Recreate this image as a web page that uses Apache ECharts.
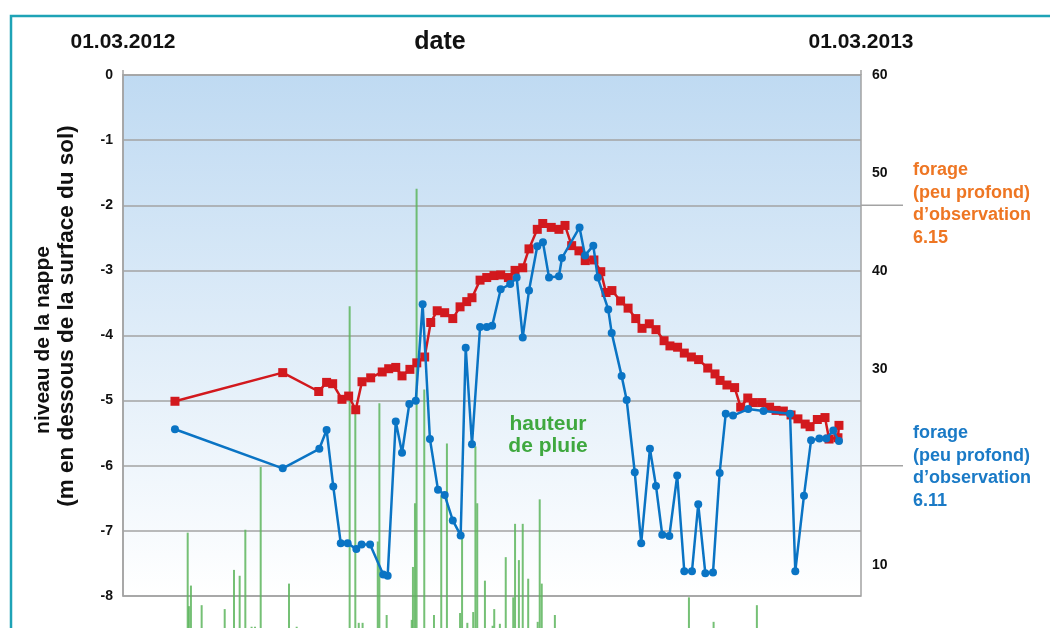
<!DOCTYPE html>
<html>
<head>
<meta charset="utf-8">
<script src="https://cdn.jsdelivr.net/npm/echarts@6/dist/echarts.min.js"></script>
<style>
  html, body { margin: 0; padding: 0; background: #fff; }
  #mychart { width: 1050px; height: 628px; }
</style>
</head>
<body>
<div id="mychart"></div>
<script>
// jours depuis le 01.03.2012
var redDays = [25.7, 79.0, 96.8, 100.7, 103.7, 108.3, 111.6, 115.1, 118.2, 122.5, 128.2, 131.4, 134.9, 138.0, 141.9, 145.3, 149.2, 152.2, 155.4, 159.1,
  163.1, 166.7, 170.0, 172.6, 176.6, 179.9, 183.5, 186.8, 190.6, 193.9, 197.7, 200.8, 204.9, 207.6, 211.8, 215.6, 218.6, 221.9, 225.5, 228.6,
  232.9, 236.3, 238.9, 241.8, 246.1, 249.8, 253.6, 256.7, 260.3, 263.6, 267.6, 270.5, 274.3, 277.6, 281.1, 284.7, 289.2, 292.8, 295.3, 298.7,
  302.5, 305.5, 309.0, 311.7, 315.9, 319.8, 323.0, 326.6, 330.4, 333.8, 337.4, 339.8, 343.4, 347.2, 349.2, 353.6, 354.1];
var redLevels = [-5.01, -4.57, -4.86, -4.72, -4.74, -4.98, -4.93, -5.14, -4.71, -4.65, -4.56, -4.51, -4.49, -4.62, -4.52, -4.42, -4.33, -3.80, -3.62, -3.65,
  -3.74, -3.56, -3.48, -3.42, -3.15, -3.11, -3.08, -3.07, -3.11, -3.00, -2.96, -2.67, -2.37, -2.28, -2.34, -2.37, -2.31, -2.62, -2.70, -2.85,
  -2.84, -3.02, -3.34, -3.31, -3.47, -3.58, -3.74, -3.89, -3.82, -3.91, -4.08, -4.16, -4.18, -4.27, -4.33, -4.37, -4.50, -4.59, -4.69, -4.76,
  -4.80, -5.10, -4.96, -5.03, -5.03, -5.10, -5.15, -5.16, -5.22, -5.28, -5.36, -5.40, -5.29, -5.26, -5.59, -5.57, -5.38];

var blueDays = [25.7, 79.0, 97.1, 100.7, 104.0, 107.7, 111.1, 115.4, 118.0, 122.2, 128.7, 130.9, 134.9, 138.0, 141.6, 144.8, 148.2, 151.8, 155.8, 159.1,
  163.1, 167.0, 169.5, 172.6, 176.6, 179.9, 182.6, 186.8, 191.5, 194.7, 197.7, 200.8, 204.9, 207.7, 210.7, 215.6, 217.1, 225.8, 228.5, 232.6,
  234.8, 240.0, 241.7, 246.6, 249.1, 253.1, 256.3, 260.6, 263.6, 266.7, 270.2, 274.1, 277.6, 281.4, 284.5, 288.0, 291.8, 295.1, 298.1, 301.7,
  309.2, 316.8, 329.9, 332.5, 336.8, 340.3, 344.4, 347.8, 351.3, 354.1];
var blueLevels = [-5.44, -6.04, -5.74, -5.45, -6.32, -7.19, -7.19, -7.28, -7.21, -7.21, -7.67, -7.69, -5.32, -5.80, -5.05, -5.00, -3.52, -5.59, -6.37, -6.45,
  -6.84, -7.07, -4.19, -5.67, -3.87, -3.87, -3.85, -3.29, -3.21, -3.11, -4.03, -3.31, -2.63, -2.57, -3.11, -3.09, -2.81, -2.34, -2.77, -2.62,
  -3.11, -3.60, -3.96, -4.62, -4.99, -6.10, -7.19, -5.74, -6.31, -7.06, -7.08, -6.15, -7.62, -7.62, -6.59, -7.65, -7.64, -6.11, -5.20, -5.23,
  -5.13, -5.16, -5.20, -7.62, -6.46, -5.61, -5.58, -5.58, -5.46, -5.62];

// hauteur de pluie (mm)
var rainDays = [32.0, 32.6, 33.6, 38.9, 50.3, 54.9, 57.7, 60.5, 63.6, 65.3, 68.1, 82.1, 85.9, 112.1, 114.9, 116.6, 118.5, 126.0, 126.8, 130.4,
  142.8, 143.4, 144.4, 145.2, 149.0, 153.8, 157.4, 160.2, 166.7, 167.7, 170.3, 173.2, 174.3, 175.2, 179.0, 182.8, 183.6, 186.4, 189.3, 193.0,
  193.9, 195.8, 197.7, 200.4, 205.1, 206.1, 207.1, 213.6, 279.9, 292.1, 313.5];
var rainMm = [13.3, 5.8, 7.9, 5.9, 5.5, 9.5, 8.9, 13.6, 3.7, 3.7, 20.0, 8.1, 3.7, 36.4, 25.8, 4.1, 4.1, 12.4, 26.5, 4.9,
  4.4, 9.8, 16.3, 48.4, 27.9, 4.9, 17.1, 22.4, 5.1, 13.1, 4.1, 5.2, 22.1, 16.3, 8.4, 3.8, 5.5, 4.0, 10.8, 6.7,
  14.2, 10.5, 14.2, 8.6, 4.2, 16.7, 8.1, 4.9, 6.7, 4.2, 5.9];

var dateLabels = ['01.03.2012', '01.03.2013'];

function pairs(xs, ys) {
  return xs.map(function (x, i) { return [x, ys[i]]; });
}

var mychart = echarts.init(document.getElementById('mychart'));
var font = 'Liberation Sans, Arial, sans-serif';
var grey = '#a3a3a3';

var option = {
  animation: false,
  textStyle: { fontFamily: font },
  grid: [
    {
      left: 123, right: 189, top: 75, height: 521, outerBoundsMode: 'none',
      show: true, borderColor: grey, borderWidth: 1.5,
      backgroundColor: {
        type: 'linear', x: 0, y: 0, x2: 0, y2: 1,
        colorStops: [{ offset: 0, color: '#bfdaf2' }, { offset: 1, color: '#ffffff' }]
      }
    },
    // la pluie a son zéro sous le bord de l'image
    { left: 123, right: 189, top: 75, height: 588, outerBoundsMode: 'none' }
  ],
  xAxis: [
    {
      gridIndex: 0, type: 'value', min: 0, max: 365, interval: 365, position: 'top',
      axisLine: { show: false },
      axisTick: { show: true, length: 5, lineStyle: { color: grey, width: 1.5 } },
      splitLine: { show: false },
      axisLabel: {
        margin: 22, fontSize: 21, fontWeight: 'bold', color: '#111',
        formatter: function (v) { return v === 0 ? dateLabels[0] : dateLabels[1]; }
      }
    },
    { gridIndex: 1, type: 'value', min: 0, max: 365, show: false }
  ],
  yAxis: [
    {
      gridIndex: 0, type: 'value', min: -8, max: 0, interval: 1,
      axisLine: { show: true, lineStyle: { color: grey, width: 1.5 } },
      axisTick: { show: false },
      splitLine: { lineStyle: { color: grey, width: 1.5 } },
      axisLabel: { margin: 10, fontSize: 14, fontWeight: 'bold', color: '#111' }
    },
    {
      gridIndex: 1, type: 'value', min: 0, max: 60, interval: 10, position: 'right',
      axisLine: { show: false }, axisTick: { show: false }, splitLine: { show: false },
      axisLabel: {
        margin: 11, fontSize: 14, fontWeight: 'bold', color: '#111',
        formatter: function (v) { return (v === 0 || v === 20) ? '' : v; }
      }
    }
  ],
  series: [
    {
      name: 'hauteur de pluie', type: 'bar', xAxisIndex: 1, yAxisIndex: 1,
      barWidth: 2, z: 1,
      itemStyle: { color: '#5db55d', opacity: 0.85 },
      data: pairs(rainDays, rainMm)
    },
    {
      name: '6.15', type: 'line', xAxisIndex: 0, yAxisIndex: 0, z: 3,
      symbol: 'rect', symbolSize: 9,
      lineStyle: { color: '#d2191e', width: 2.5 },
      itemStyle: { color: '#d2191e' },
      data: pairs(redDays, redLevels)
    },
    {
      name: '6.11', type: 'line', xAxisIndex: 0, yAxisIndex: 0, z: 4,
      symbol: 'circle', symbolSize: 8,
      lineStyle: { color: '#0a74c4', width: 2.5 },
      itemStyle: { color: '#0a74c4' },
      data: pairs(blueDays, blueLevels)
    }
  ]
};
mychart.setOption(option);

// traits de repère vers les légendes (à -2 et -6)
var xr = mychart.convertToPixel({ xAxisIndex: 0 }, 365);
var y2 = mychart.convertToPixel({ yAxisIndex: 0 }, -2);
var y6 = mychart.convertToPixel({ yAxisIndex: 0 }, -6);

mychart.setOption({
  graphic: [
    {
      type: 'rect', silent: true,
      shape: { x: 11, y: 16, width: 1200, height: 800 },
      style: { fill: null, stroke: '#1ea3b6', lineWidth: 2.5 }
    },
    { type: 'line', shape: { x1: xr, y1: y2, x2: xr + 42, y2: y2 }, style: { stroke: grey, lineWidth: 1.5 } },
    { type: 'line', shape: { x1: xr, y1: y6, x2: xr + 42, y2: y6 }, style: { stroke: grey, lineWidth: 1.5 } },
    {
      type: 'text', x: 440, y: 42,
      style: { text: 'date', font: 'bold 25px ' + font, fill: '#111', textAlign: 'center', textVerticalAlign: 'middle' }
    },
    {
      type: 'text', x: 43, y: 340, rotation: Math.PI / 2,
      style: { text: 'niveau de la nappe', font: 'bold 21px ' + font, fill: '#111', textAlign: 'center', textVerticalAlign: 'middle' }
    },
    {
      type: 'text', x: 67, y: 316, rotation: Math.PI / 2,
      style: { text: '(m en dessous de la surface du sol)', font: 'bold 22.5px ' + font, fill: '#111', textAlign: 'center', textVerticalAlign: 'middle' }
    },
    {
      type: 'text', x: 913, y: 159,
      style: { text: 'forage\n(peu profond)\nd\u2019observation\n6.15', font: 'bold 18px ' + font, lineHeight: 22.5, fill: '#ee7623' }
    },
    {
      type: 'text', x: 913, y: 422,
      style: { text: 'forage\n(peu profond)\nd\u2019observation\n6.11', font: 'bold 18px ' + font, lineHeight: 22.5, fill: '#1a7ac6' }
    },
    {
      type: 'text', x: 548, y: 413,
      style: { text: 'hauteur\nde pluie', font: 'bold 21px ' + font, lineHeight: 22, fill: '#3fa83f', textAlign: 'center' }
    }
  ]
});
</script>
</body>
</html>
